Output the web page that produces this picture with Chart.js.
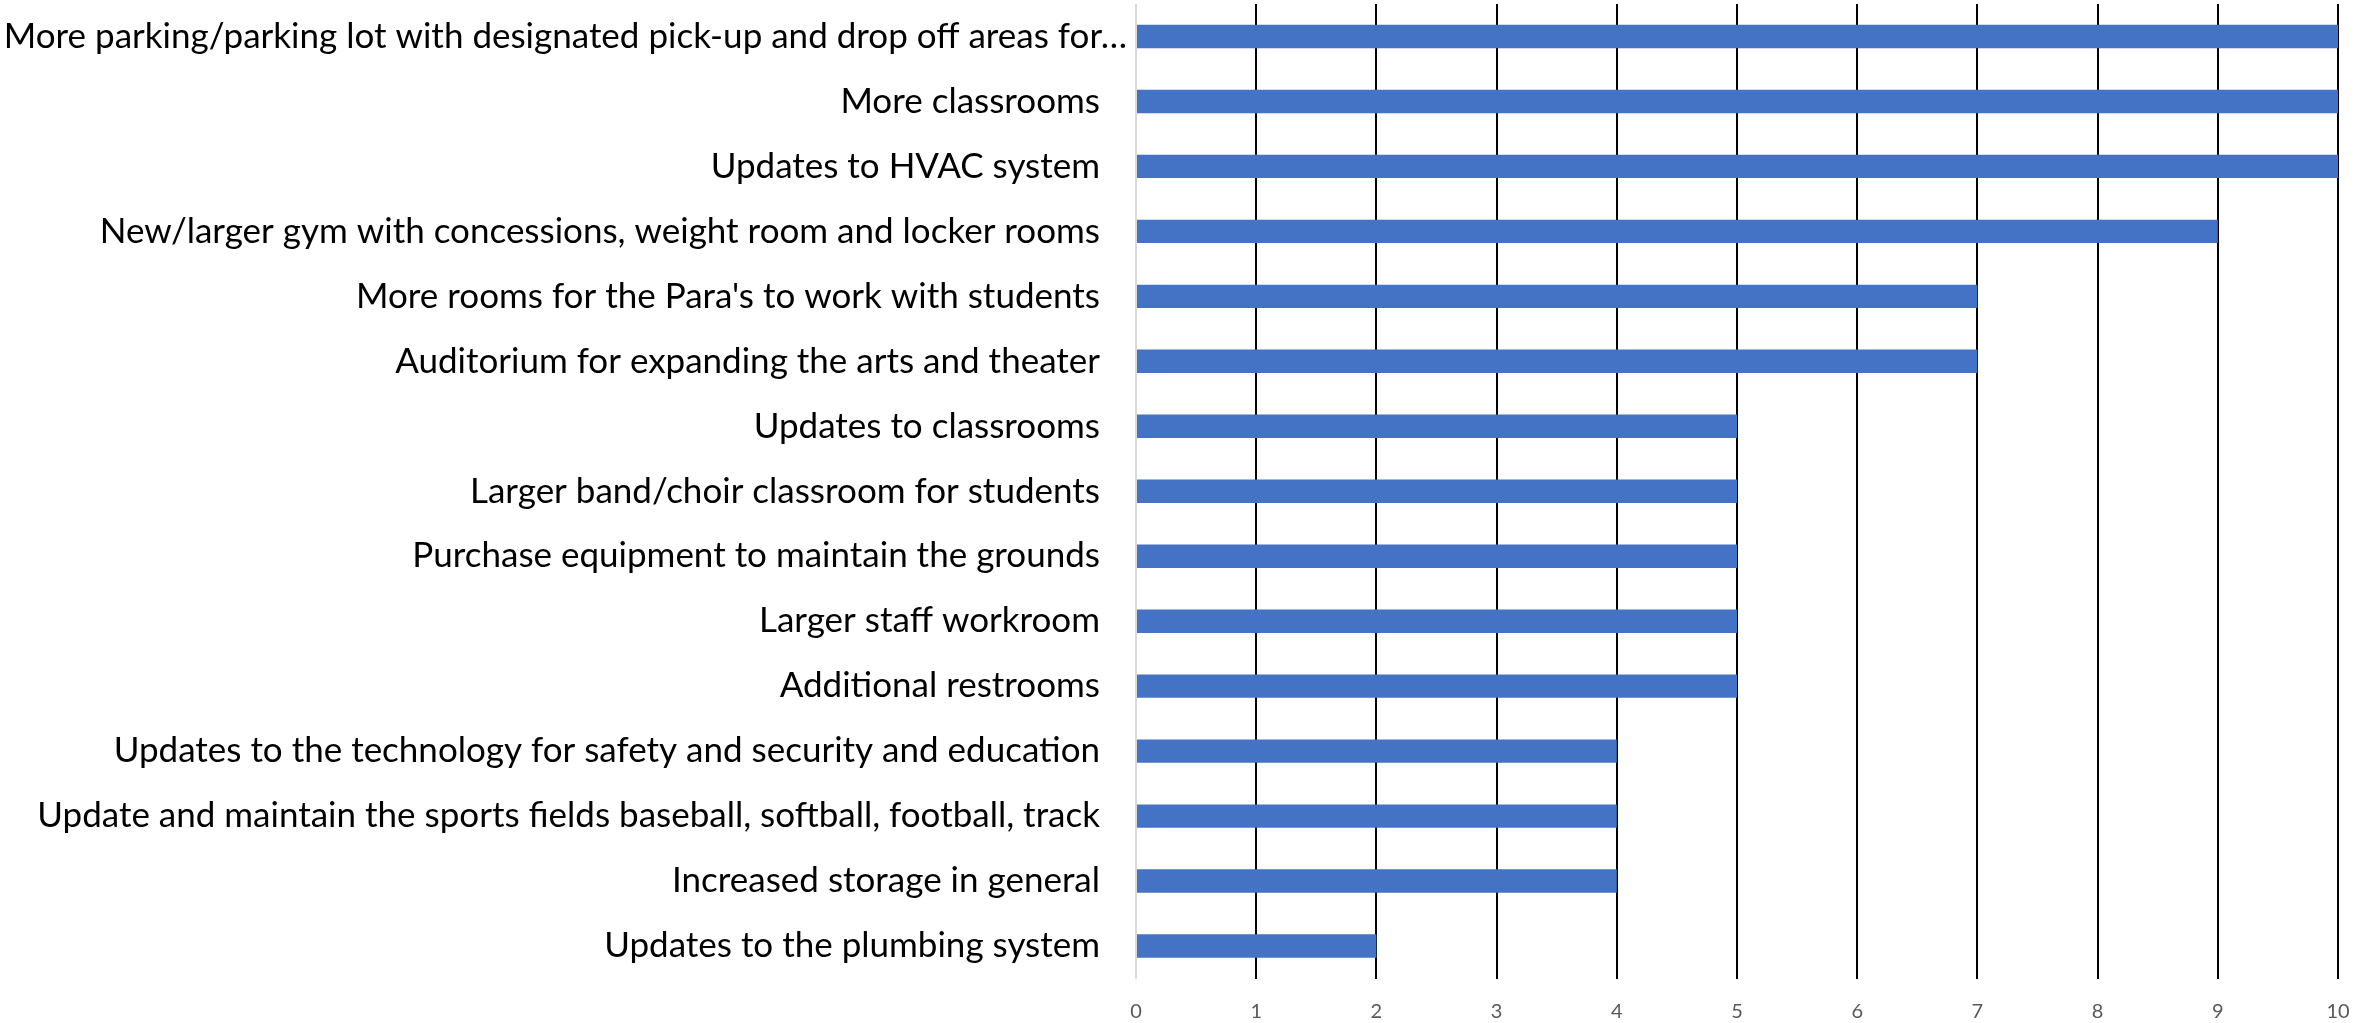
<!DOCTYPE html>
<html>
<head>
    <title>Facility needs</title>
    <script src="https://cdn.jsdelivr.net/npm/chart.js"></script>
</head>
<body style="margin:0; background-color:white;">
    <canvas id="needsChart" width="2354" height="1023"></canvas>

    <script>
        const needs = [
            "More parking/parking lot with designated pick-up and drop off areas for\u2026",
            "More classrooms",
            "Updates to HVAC system",
            "New/larger gym with concessions, weight room and locker rooms",
            "More rooms for the Para's to work with students",
            "Auditorium for expanding the arts and theater",
            "Updates to classrooms",
            "Larger band/choir classroom for students",
            "Purchase equipment to maintain the grounds",
            "Larger staff workroom",
            "Additional restrooms",
            "Updates to the technology for safety and security and education",
            "Update and maintain the sports fields baseball, softball, football, track",
            "Increased storage in general",
            "Updates to the plumbing system"
        ];
        const counts = [10, 10, 10, 9, 7, 7, 5, 5, 5, 5, 5, 4, 4, 4, 2];
        const axisMin = 0, axisMax = 10;

        // no extra label padding around the plot, layout.padding sets it
        function noEdgePadding(s) {
            s.paddingTop = 0; s.paddingBottom = 0;
            s.paddingLeft = 0; s.paddingRight = 0;
        }

        // the truncated first label sits a bit further right than the rest
        const shiftFirstLabel = {
            id: 'shiftFirstLabel',
            afterLayout(chart) {
                const s = chart.scales.y;
                if (s._shiftWrapped) return;
                const orig = s._computeLabelItems.bind(s);
                s._computeLabelItems = (area) => {
                    const items = orig(area);
                    if (items.length) items[0].options.translation[0] += 27;
                    return items;
                };
                s._labelItemsCache = null;
                s._shiftWrapped = true;
            }
        };

        new Chart(document.getElementById("needsChart"), {
            type: 'bar',
            data: {
                labels: needs,
                datasets: [{ data: counts, backgroundColor: "#4472C4", borderWidth: 0,
                             categoryPercentage: 1, barPercentage: 0.36 }]
            },
            options: {
                indexAxis: 'y',
                responsive: false,
                animation: false,
                layout: { padding: { top: 4, right: 16, left: 0, bottom: 0 } },
                plugins: { legend: { display: false }, tooltip: { enabled: false } },
                scales: {
                    x: {
                        min: axisMin, max: axisMax,
                        ticks: { stepSize: 1, color: "#595959", padding: 21,
                                 font: { family: "Lato", size: 20 } },
                        grid: { color: c => c.index === 0 ? "#d9d9d9" : "#000000",
                                lineWidth: 2, drawTicks: false },
                        border: { display: false },
                        afterFit: s => { s.height = 44.5; noEdgePadding(s); }
                    },
                    y: {
                        ticks: { color: "#000000", padding: 36, autoSkip: false,
                                 font: { family: "Lato", size: 35 } },
                        grid: { display: false, drawTicks: false },
                        border: { display: false },
                        afterFit: s => { s.width = 1136; noEdgePadding(s); }
                    }
                }
            },
            plugins: [shiftFirstLabel]
        });
    </script>
</body>
</html>
